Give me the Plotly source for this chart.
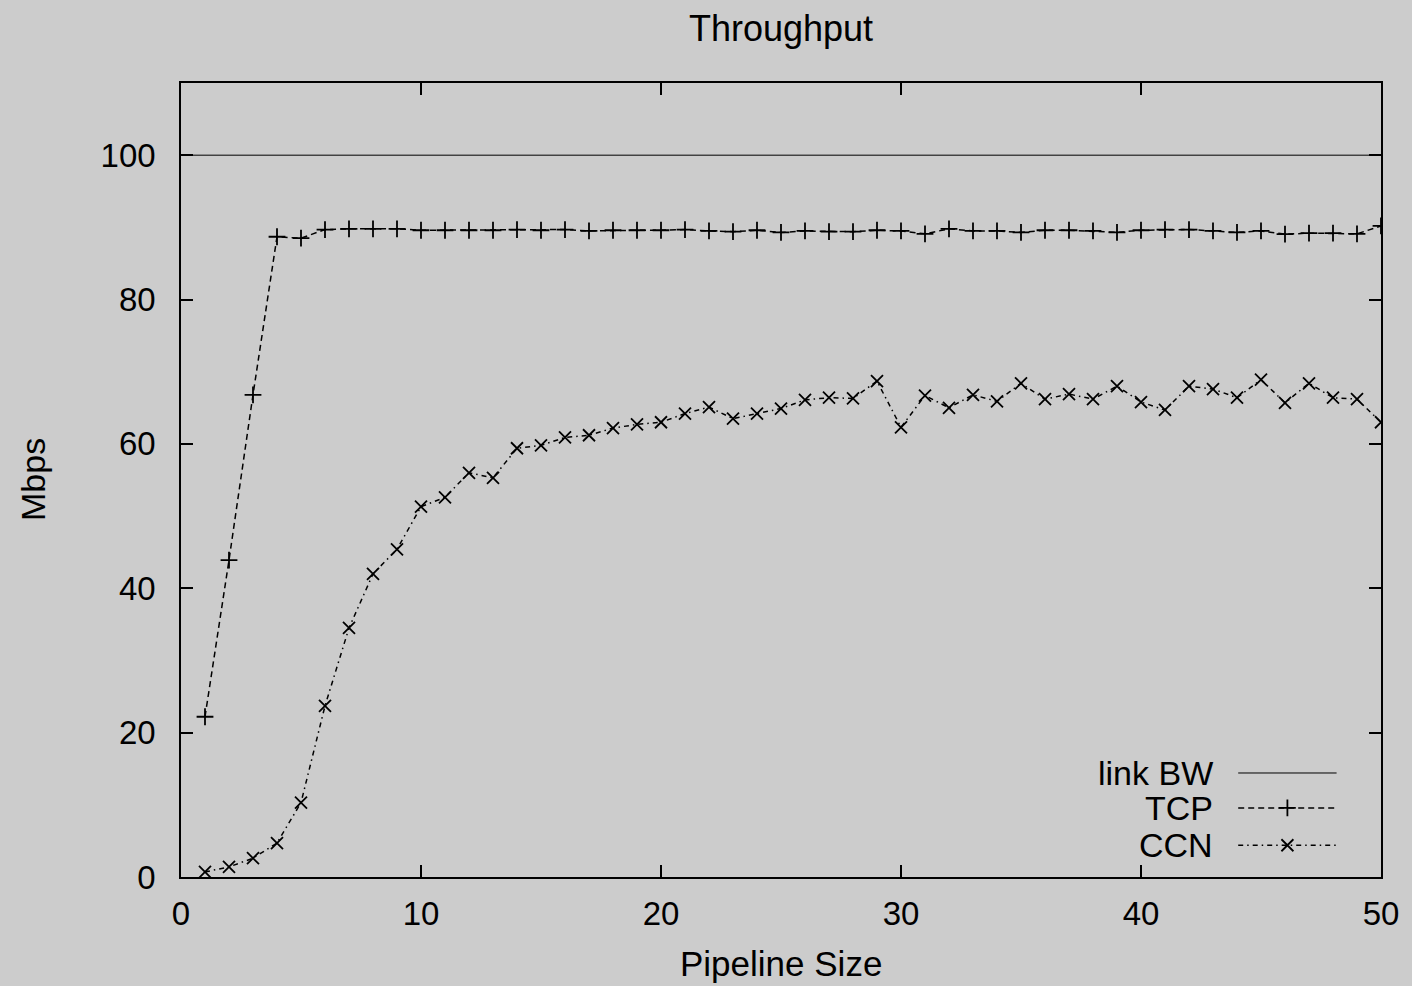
import plotly.graph_objects as go

pipeline = list(range(1, 51))
tcp = [22.2, 43.9, 66.8, 88.7, 88.5, 89.7, 89.8, 89.8, 89.8, 89.6,
       89.6, 89.6, 89.6, 89.7, 89.6, 89.7, 89.5, 89.6, 89.6, 89.6,
       89.7, 89.5, 89.4, 89.6, 89.3, 89.5, 89.4, 89.4, 89.6, 89.5,
       89.1, 89.8, 89.5, 89.5, 89.3, 89.6, 89.6, 89.5, 89.3, 89.6,
       89.7, 89.7, 89.5, 89.3, 89.5, 89.05, 89.2, 89.2, 89.1, 90.2]
ccn = [0.7, 1.4, 2.6, 4.7, 10.3, 23.7, 34.5, 42.0, 45.4, 51.3,
       52.6, 56.0, 55.3, 59.4, 59.8, 60.9, 61.2, 62.2, 62.7, 63.0,
       64.2, 65.1, 63.5, 64.2, 64.9, 66.1, 66.4, 66.3, 68.7, 62.3,
       66.7, 65.0, 66.8, 65.9, 68.4, 66.2, 66.9, 66.2, 68.0, 65.8,
       64.7, 68.0, 67.6, 66.4, 68.9, 65.7, 68.4, 66.4, 66.2, 63.0]
link_bw = 100
x_ticks = [0, 10, 20, 30, 40, 50]
y_ticks = [0, 20, 40, 60, 80, 100]
legend_names = ["link BW", "TCP", "CCN"]

FONT = "Liberation Sans, Arial, sans-serif"
BG = "#cccccc"
TCP_DASH = "6px,4px"
CCN_DASH = "5px,4px,1.5px,4px"

fig = go.Figure()
fig.add_trace(go.Scatter(x=[0, 50], y=[link_bw, link_bw], mode="lines",
                         line=dict(color="black", width=1), showlegend=False))
fig.add_trace(go.Scatter(x=pipeline, y=tcp, mode="lines+markers",
                         line=dict(color="black", width=1.5, dash=TCP_DASH),
                         marker=dict(symbol="cross-thin-open", size=12, color="black",
                                     line=dict(color="black", width=1.8)),
                         showlegend=False))
fig.add_trace(go.Scatter(x=pipeline, y=ccn, mode="lines+markers",
                         line=dict(color="black", width=1.5, dash=CCN_DASH),
                         marker=dict(symbol="x-thin-open", size=12, color="black",
                                     line=dict(color="black", width=1.8)),
                         showlegend=False))

# custom legend (text on the left, sample on the right) on an overlay axis
leg_rows = [0.131, 0.087, 0.040]
leg_x0, leg_x1, leg_text_x = 0.881, 0.963, 0.862
styles = [
    (dict(color="black", width=1), None),
    (dict(color="black", width=1.5, dash=TCP_DASH), "cross-thin-open"),
    (dict(color="black", width=1.5, dash=CCN_DASH), "x-thin-open"),
]
for name, yy, (ln, sym) in zip(legend_names, leg_rows, styles):
    fig.add_trace(go.Scatter(x=[leg_x0, leg_x1], y=[yy, yy], mode="lines",
                             line=ln, xaxis="x2", yaxis="y2", showlegend=False,
                             hoverinfo="skip"))
    if sym:
        fig.add_trace(go.Scatter(x=[(leg_x0 + leg_x1) / 2], y=[yy], mode="markers",
                                 marker=dict(symbol=sym, size=12, color="black",
                                             line=dict(color="black", width=1.8)),
                                 xaxis="x2", yaxis="y2", showlegend=False,
                                 hoverinfo="skip"))
    fig.add_annotation(x=leg_text_x, y=yy, xref="paper", yref="paper",
                       text=name, showarrow=False, xanchor="right", yanchor="middle",
                       font=dict(family=FONT, size=34, color="black"))

axis_common = dict(showgrid=False, zeroline=False, showline=True, linecolor="black",
                   linewidth=1.5, mirror="ticks", ticks="inside", ticklen=12,
                   tickwidth=1.5, tickcolor="black",
                   tickfont=dict(family=FONT, size=33, color="black"))

fig.update_layout(
    width=1412, height=986,
    paper_bgcolor=BG, plot_bgcolor=BG,
    margin=dict(l=181, r=31, t=83, b=109),
    title=dict(text="Throughput", x=781 / 1412, xanchor="center",
               y=1 - 28 / 986, yanchor="middle", yref="container",
               font=dict(family=FONT, size=36, color="black")),
    xaxis=dict(range=[0, 50], tickvals=x_ticks, ticklabelstandoff=7, **axis_common),
    yaxis=dict(range=[0, 110], tickvals=y_ticks, ticklabelstandoff=17, **axis_common),
    xaxis2=dict(range=[0, 1], overlaying="x", visible=False),
    yaxis2=dict(range=[0, 1], overlaying="y", visible=False),
    showlegend=False,
)
fig.add_annotation(x=0.5, y=-86 / 794, xref="paper", yref="paper", text="Pipeline Size",
                   showarrow=False, xanchor="center", yanchor="middle",
                   font=dict(family=FONT, size=35, color="black"))
fig.add_annotation(x=-148 / 1200, y=(877 - 480) / 794, xref="paper", yref="paper",
                   text="Mbps", textangle=-90, showarrow=False,
                   xanchor="center", yanchor="middle",
                   font=dict(family=FONT, size=34, color="black"))

fig.write_html("out.html", config={"displayModeBar": False})

# remove the default page margin so the figure fills the window exactly
with open("out.html", "r", encoding="utf-8") as f:
    html = f.read()
html = html.replace("<body>", '<body style="margin:0;padding:0;overflow:hidden;">', 1)
with open("out.html", "w", encoding="utf-8") as f:
    f.write(html)
